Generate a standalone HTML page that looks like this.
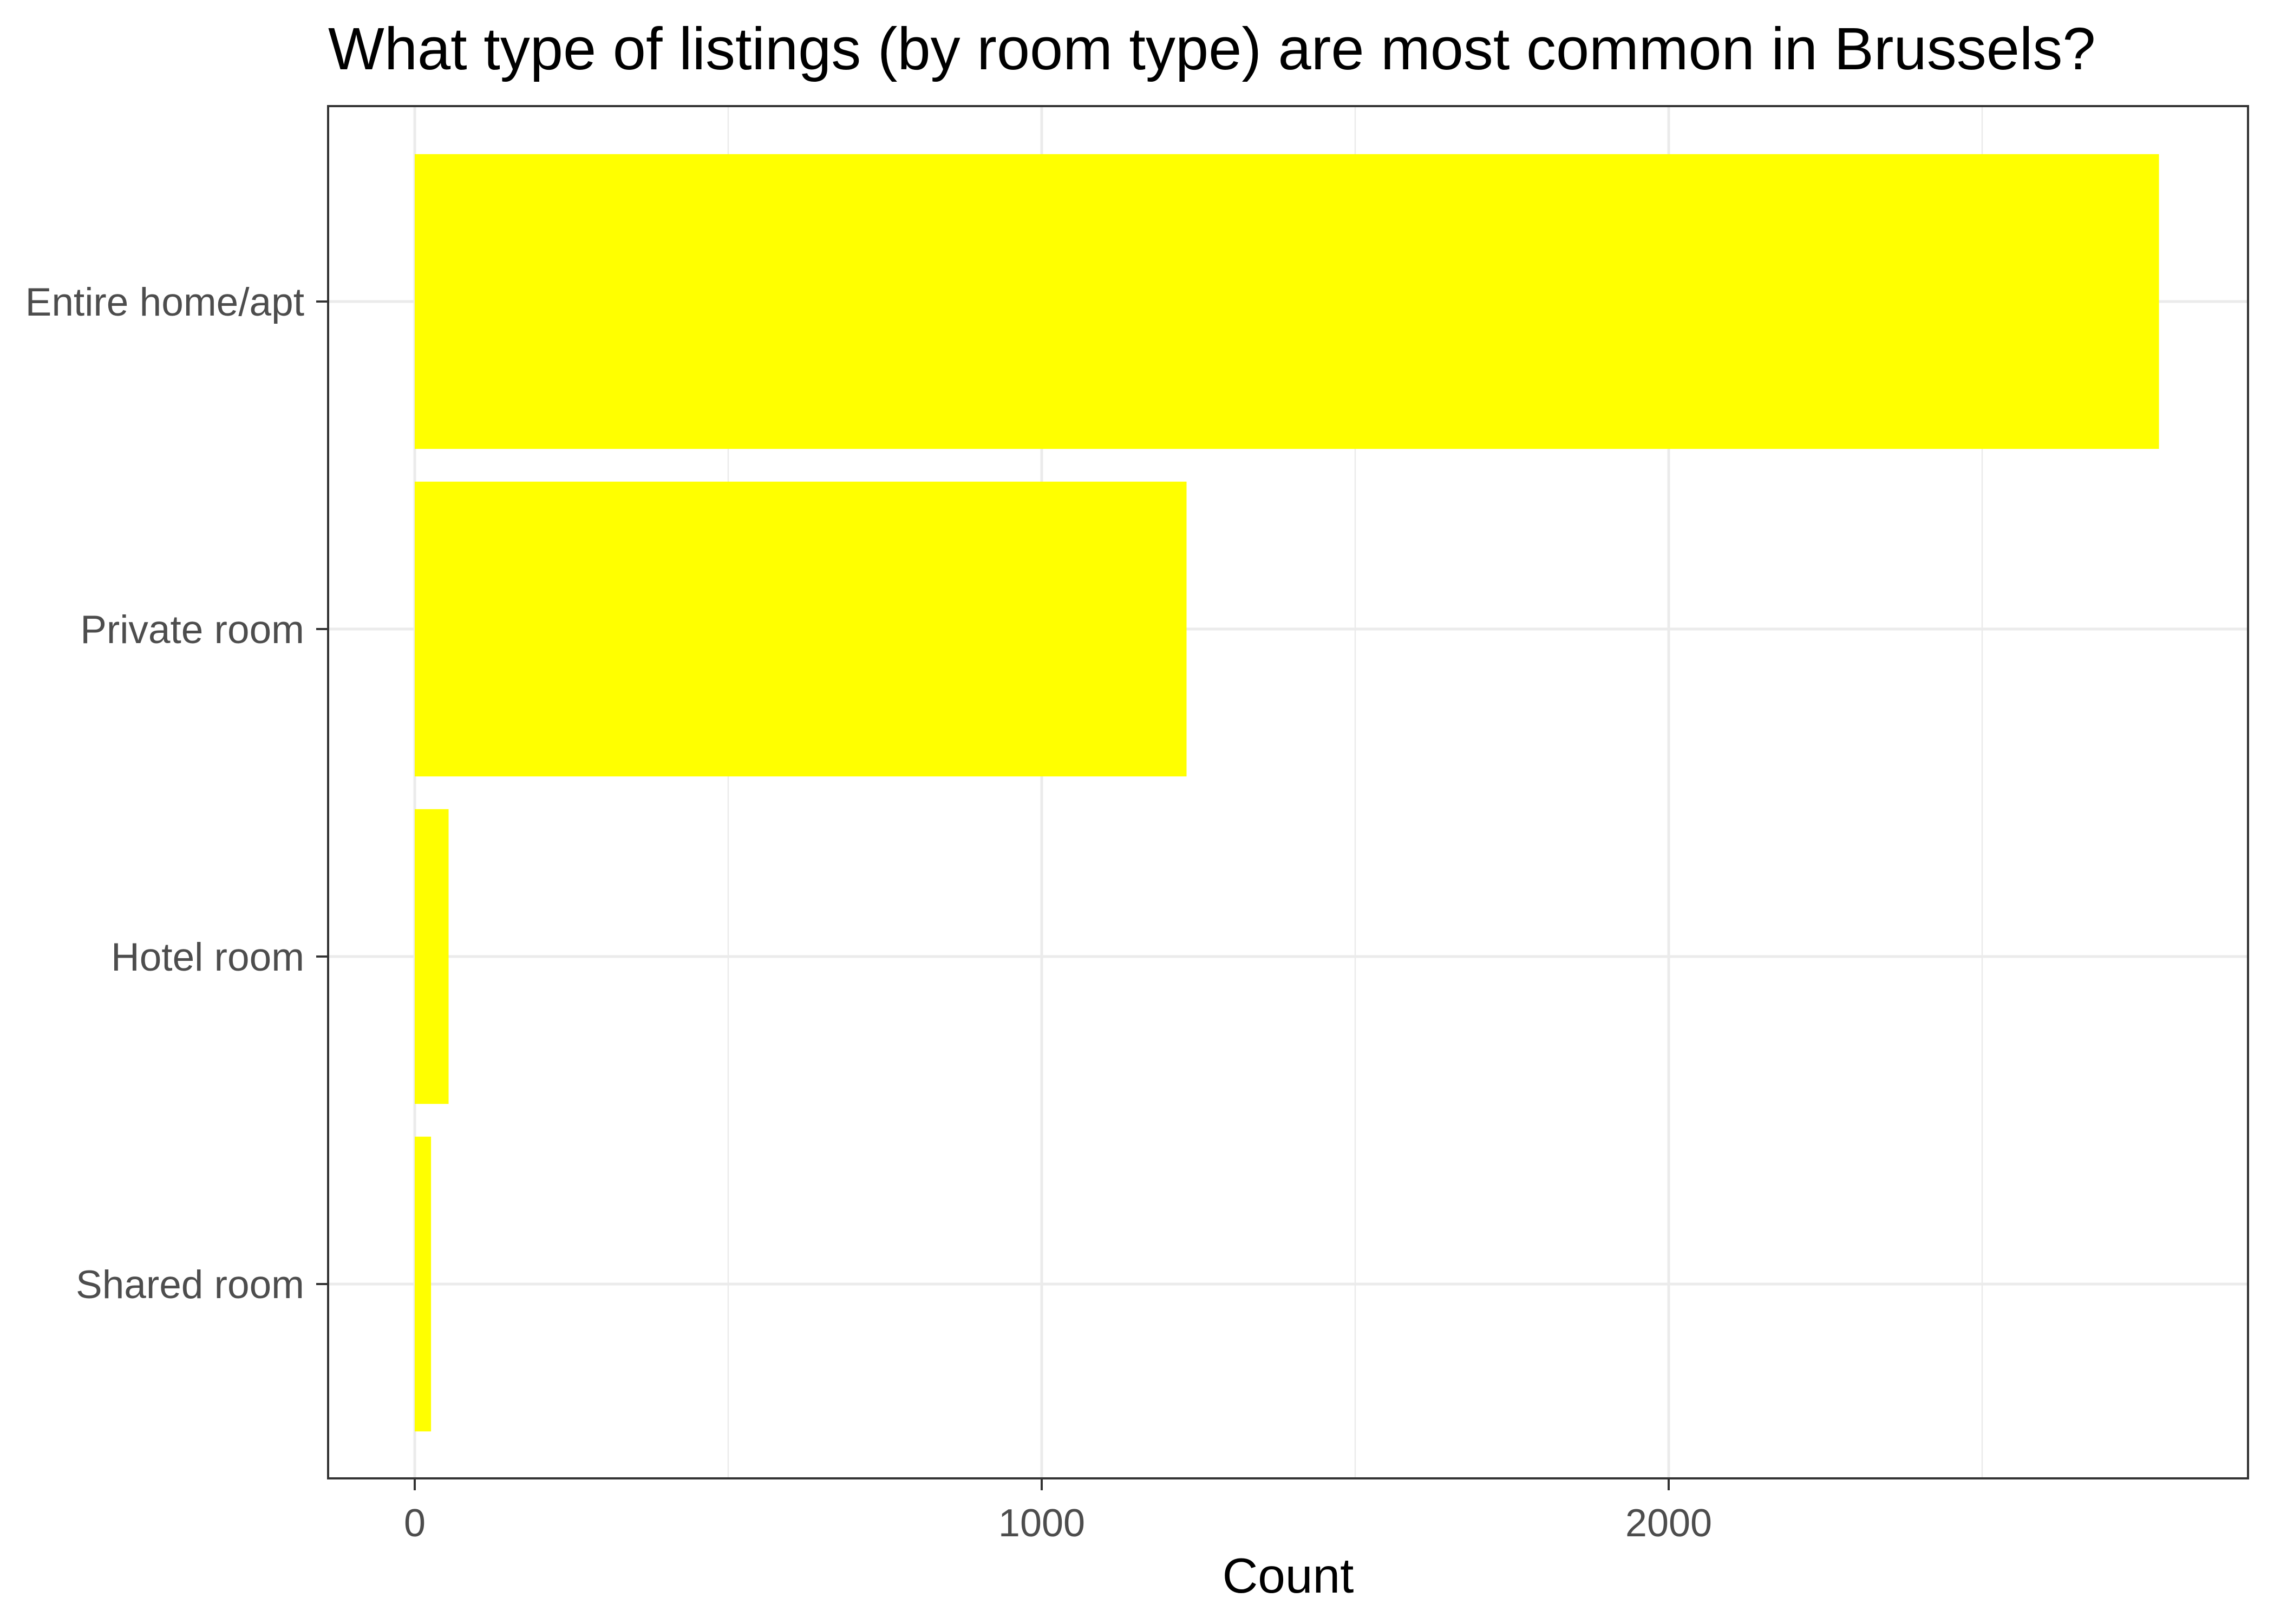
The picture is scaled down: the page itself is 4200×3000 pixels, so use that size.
<!DOCTYPE html>
<html><head><meta charset="utf-8"><style>body{margin:0;background:#fff}svg{display:block}</style></head>
<body>
<svg id="chart" width="4200" height="3000" xmlns="http://www.w3.org/2000/svg" font-family="Liberation Sans, Arial, sans-serif">
<rect width="4200" height="3000" fill="#fff"/>
<text x="606" y="128" font-size="110" fill="#000">What type of listings (by room type) are most common in Brussels?</text>
<g id="grid"></g><g id="bars"></g><g id="axes"></g>
<text x="2379" y="2942" font-size="91" text-anchor="middle" fill="#000">Count</text>
</svg>
<script>
const categories = ["Entire home/apt", "Private room", "Hotel room", "Shared room"];
const counts = [2782, 1231, 54, 26];
const xTicks = [0, 1000, 2000];
const xMinor = [500, 1500, 2500];
const NS = "http://www.w3.org/2000/svg";
const L = 606, R = 4152, T = 196, B = 2731;
const x = v => 766 + v * 1.158;
const step = 605;
const yc = i => 557 + i * step;
function mk(tag, attrs, parent) { const e = document.createElementNS(NS, tag); for (const k in attrs) e.setAttribute(k, attrs[k]); parent.appendChild(e); return e; }
const grid = document.getElementById("grid"), bars = document.getElementById("bars"), axes = document.getElementById("axes");
xMinor.forEach(v => { const l = mk("line", {x1: x(v), x2: x(v), y1: T, y2: B, stroke: "#ebebeb", "stroke-width": 2.5}, grid);

 });
xTicks.forEach(v => { const l = mk("line", {x1: x(v), x2: x(v), y1: T, y2: B, stroke: "#ebebeb", "stroke-width": 5}, grid);

 });
categories.forEach((c, i) => { const l = mk("line", {x1: L, x2: R, y1: yc(i), y2: yc(i), stroke: "#ebebeb", "stroke-width": 5}, grid);

 });
categories.forEach((c, i) => {
  const h = step * 0.9;
  const r = mk("rect", {x: x(0), y: yc(i) - h / 2, width: x(counts[i]) - x(0), height: h, fill: "#ffff00"}, bars);
  
  
  const t = mk("line", {x1: 584, x2: L, y1: yc(i), y2: yc(i), stroke: "#333", "stroke-width": 4}, axes);
  
  
  const lb = mk("text", {x: 562, y: yc(i) + 26, "font-size": 73, fill: "#4d4d4d", "text-anchor": "end"}, axes);
  lb.textContent = c;
  
  
});
xTicks.forEach(v => {
  const t = mk("line", {x1: x(v), x2: x(v), y1: B, y2: B + 22, stroke: "#333", "stroke-width": 4}, axes);
  
  
  const lb = mk("text", {x: x(v), y: 2838, "font-size": 72, fill: "#4d4d4d", "text-anchor": "middle"}, axes);
  lb.textContent = v;
  
  
});
const fr = mk("rect", {x: L, y: T, width: R - L, height: B - T, fill: "none", stroke: "#333", "stroke-width": 4}, axes);


</script>
</body></html>
